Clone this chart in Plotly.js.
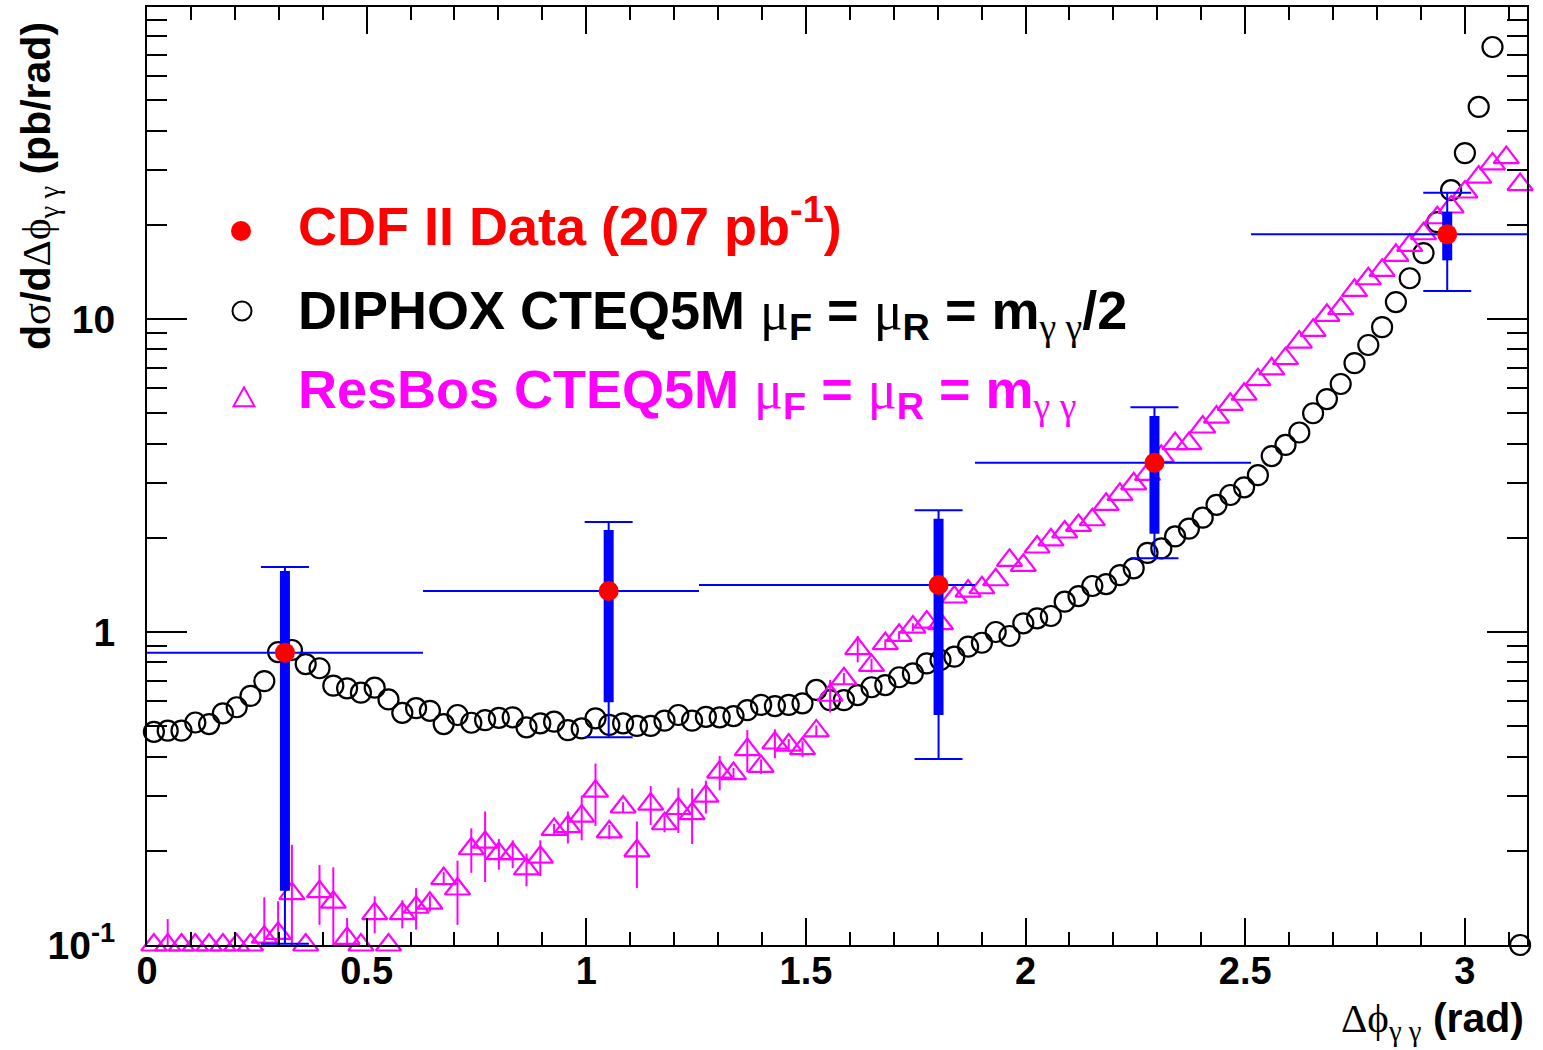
<!DOCTYPE html>
<html>
<head>
<meta charset="utf-8">
<script src="https://cdn.plot.ly/plotly-3.0.1.min.js"></script>
<style>
  html, body { margin: 0; padding: 0; background: #ffffff; }
  #plot { width: 1543px; height: 1050px; }
</style>
</head>
<body>
<div id="plot"></div>
<script>
// Diphoton azimuthal separation: CDF Run II data vs DIPHOX and ResBos predictions

// 100 equal bins in delta-phi between 0 and pi for the theory curves
var nBins = 100;
var phiMax = Math.PI;

// DIPHOX CTEQ5M, mu_F = mu_R = m_gg/2 (pb/rad), one value per bin
var diphoxY = [
  0.480, 0.484, 0.484, 0.514, 0.508, 0.550, 0.575, 0.625, 0.697, 0.863,
  0.876, 0.790, 0.766, 0.674, 0.661, 0.640, 0.664, 0.609, 0.552, 0.571,
  0.560, 0.508, 0.543, 0.513, 0.523, 0.532, 0.534, 0.496, 0.511, 0.517,
  0.486, 0.492, 0.530, 0.505, 0.511, 0.501, 0.501, 0.521, 0.543, 0.521,
  0.536, 0.534, 0.539, 0.563, 0.585, 0.580, 0.585, 0.592, 0.653, 0.606,
  0.606, 0.629, 0.666, 0.677, 0.717, 0.738, 0.794, 0.814, 0.834, 0.898,
  0.924, 1.000, 0.971, 1.066, 1.106, 1.125, 1.250, 1.303, 1.403, 1.423,
  1.520, 1.598, 1.790, 1.850, 2.020, 2.140, 2.320, 2.550, 2.740, 2.900,
  3.170, 3.650, 3.960, 4.340, 5.000, 5.550, 6.200, 7.230, 8.260, 9.420,
  11.33, 13.50, 16.25, 20.40, 25.80, 33.90, 47.60, 74.00, null, 0.100
];

// ResBos CTEQ5M, mu_F = mu_R = m_gg (pb/rad), one value per bin
var resbosY = [
  0.100, 0.100, 0.100, 0.100, 0.100, 0.100, 0.100, 0.100, 0.106, 0.109,
  0.146, 0.100, 0.148, 0.137, 0.105, 0.100, 0.126, 0.100, 0.126, 0.132,
  0.136, 0.163, 0.151, 0.203, 0.213, 0.196, 0.196, 0.175, 0.191, 0.234,
  0.239, 0.258, 0.310, 0.230, 0.276, 0.200, 0.282, 0.244, 0.273, 0.263,
  0.299, 0.357, 0.353, 0.421, 0.372, 0.442, 0.435, 0.424, 0.483, 0.628,
  0.709, 0.885, 0.782, 0.918, 0.976, 1.037, 1.076, 1.063, 1.294, 1.352,
  1.385, 1.469, 1.694, 1.633, 1.869, 1.970, 2.087, 2.190, 2.284, 2.558,
  2.754, 2.976, 3.190, 3.640, 4.000, 4.000, 4.520, 4.860, 5.340, 5.750,
  6.400, 6.930, 7.470, 8.440, 9.200, 10.28, 10.79, 12.35, 13.45, 14.30,
  15.98, 17.20, 18.73, 21.07, 22.80, 25.46, 28.40, 31.30, 32.80, 26.90
];

// ResBos statistical uncertainty per bin (pb/rad)
var resbosErr = [
  0.000, 0.021, 0.000, 0.000, 0.000, 0.000, 0.000, 0.000, 0.036, 0.029,
  0.063, 0.000, 0.032, 0.040, 0.017, 0.000, 0.017, 0.000, 0.013, 0.020,
  0.008, 0.008, 0.035, 0.033, 0.054, 0.022, 0.020, 0.021, 0.025, 0.010,
  0.028, 0.042, 0.070, 0.012, 0.010, 0.048, 0.040, 0.015, 0.045, 0.053,
  0.036, 0.045, 0.015, 0.065, 0.020, 0.047, 0.020, 0.025, 0.020, 0.075,
  0.030, 0.085, 0.040, 0.030, 0.030, 0.030, 0.000, 0.000, 0.000, 0.000,
  0.000, 0.000, 0.000, 0.000, 0.000, 0.000, 0.000, 0.000, 0.000, 0.000,
  0.000, 0.000, 0.000, 0.000, 0.000, 0.000, 0.000, 0.000, 0.000, 0.000,
  0.000, 0.000, 0.000, 0.000, 0.000, 0.000, 0.000, 0.000, 0.000, 0.000,
  0.000, 0.000, 0.000, 0.000, 0.000, 0.000, 0.000, 0.000, 0.000, 0.000
];

// CDF II data: five bins of width pi/5, points at the mean delta-phi in each bin
var dataBinLo = [0.0, 0.6283, 1.2566, 1.8850, 2.5133];
var dataBinHi = [0.6283, 1.2566, 1.8850, 2.5133, 3.1416];
var dataX     = [0.314, 1.051, 1.802, 2.2935, 2.960];
var dataY     = [0.859, 1.352, 1.413, 3.475, 18.65];
// statistical band (thick) and total uncertainty (thin, with caps)
var statHi = [1.566, 2.118, 2.300, 4.900, 22.0];
var statLo = [0.149, 0.597, 0.543, 2.060, 15.4];
var totHi  = [1.614, 2.246, 2.450, 5.230, 25.3];
var totLo  = [0.101, 0.461, 0.393, 1.720, 12.3];

// axis tick labels
var xTickVals = [0, 0.5, 1, 1.5, 2, 2.5, 3];
var xTickText = ['0', '0.5', '1', '1.5', '2', '2.5', '3'];
var yTickVals = [0.1, 1, 10];
var yTickText = ['10<sup>-1</sup>', '1', '10'];
var yMinorVals = [0.2, 0.3, 0.4, 0.5, 0.6, 0.7, 0.8, 0.9,
                  2, 3, 4, 5, 6, 7, 8, 9,
                  20, 30, 40, 50, 60, 70, 80, 90];

// bin centres for the theory histograms
var binX = [];
for (var i = 0; i < nBins; i++) binX.push((i + 0.5) * phiMax / nBins);

function diff(a, b) { return a.map(function (v, k) { return v - b[k]; }); }

var SANS = 'Liberation Sans, Arial, Helvetica, sans-serif';
var GREEK = 'font-weight:normal;font-family:Liberation Serif, Times New Roman, serif';
function g(s) { return '<span style="' + GREEK + '">' + s + '</span>'; }

var BLUE = '#0000ff', RED = '#ff0000', MAG = '#ff00ff';
var PHI = '\u03d5';

var traces = [
  {
    name: 'DIPHOX', type: 'scatter', mode: 'markers',
    x: binX, y: diphoxY, cliponaxis: false,
    marker: { symbol: 'circle-open', size: 20, color: '#000000', line: { width: 2.2, color: '#000000' } },
    hoverinfo: 'x+y'
  },
  {
    name: 'ResBos', type: 'scatter', mode: 'markers',
    x: binX, y: resbosY, cliponaxis: false,
    marker: { symbol: 'triangle-up-open', size: 22, color: MAG, line: { width: 2.2, color: MAG } },
    error_y: { type: 'data', array: resbosErr, symmetric: true, color: MAG, thickness: 2, width: 0 },
    hoverinfo: 'x+y'
  },
  {
    name: 'CDF stat', type: 'scatter', mode: 'markers',
    x: dataX, y: dataY,
    marker: { size: 1, opacity: 0 },
    error_y: { type: 'data', symmetric: false,
               array: diff(statHi, dataY), arrayminus: diff(dataY, statLo),
               color: BLUE, thickness: 10, width: 0 },
    hoverinfo: 'skip'
  },
  {
    name: 'CDF II Data', type: 'scatter', mode: 'markers',
    x: dataX, y: dataY,
    marker: { symbol: 'circle', size: 20, color: RED },
    error_y: { type: 'data', symmetric: false,
               array: diff(totHi, dataY), arrayminus: diff(dataY, totLo),
               color: BLUE, thickness: 2, width: 24 },
    error_x: { type: 'data', symmetric: false,
               array: diff(dataBinHi, dataX), arrayminus: diff(dataX, dataBinLo),
               color: BLUE, thickness: 2, width: 0 },
    hoverinfo: 'x+y'
  }
];

// plot frame in pixels: x 147..1527, y 7..945
function px(x) { return (x - 147) / 1380; }
function py(y) { return (945 - y) / 938; }

var legendFont = { family: SANS, size: 54, weight: 700 };

var annotations = [
  {
    xref: 'paper', yref: 'paper', x: px(296), y: py(222), xanchor: 'left', yanchor: 'middle',
    showarrow: false, font: Object.assign({}, legendFont, { color: RED }),
    text: 'CDF II Data (207 pb<sup>-1</sup>)'
  },
  {
    xref: 'paper', yref: 'paper', x: px(296), y: py(314), xanchor: 'left', yanchor: 'middle',
    showarrow: false, font: Object.assign({}, legendFont, { color: '#000000' }),
    text: 'DIPHOX CTEQ5M ' + g('\u03bc') + '<sub>F</sub> = ' + g('\u03bc') +
          '<sub>R</sub> = m<sub>' + g('\u03b3 \u03b3') + '</sub>/2'
  },
  {
    xref: 'paper', yref: 'paper', x: px(296), y: py(393), xanchor: 'left', yanchor: 'middle',
    showarrow: false, font: Object.assign({}, legendFont, { color: MAG }),
    text: 'ResBos CTEQ5M ' + g('\u03bc') + '<sub>F</sub> = ' + g('\u03bc') +
          '<sub>R</sub> = m<sub>' + g('\u03b3 \u03b3') + '</sub>'
  },
  {
    // y-axis title, right-aligned to the top of the frame
    xref: 'paper', yref: 'paper', x: px(39), y: py(20), xanchor: 'center', yanchor: 'top',
    textangle: -90, showarrow: false,
    font: { family: SANS, size: 41, weight: 700, color: '#000000' },
    text: 'd' + g('\u03c3') + '/d' + g('\u0394' + PHI) + '<sub>' + g('\u03b3 \u03b3') + '</sub> (pb/rad)'
  },
  {
    // x-axis title, right-aligned under the frame
    xref: 'paper', yref: 'paper', x: px(1526), y: py(1021), xanchor: 'right', yanchor: 'middle',
    showarrow: false,
    font: { family: SANS, size: 41, weight: 700, color: '#000000' },
    text: g('\u0394' + PHI) + '<sub>' + g('\u03b3 \u03b3') + '</sub> (rad)'
  }
];

// legend symbols
function circleShape(cx, cy, r, fill, line) {
  return {
    type: 'circle', xref: 'paper', yref: 'paper', layer: 'above',
    x0: px(cx - r), x1: px(cx + r), y0: py(cy + r), y1: py(cy - r),
    fillcolor: fill, line: line
  };
}
function triPath(cx, cy, w, h) {
  var x0 = px(cx - w / 2), x1 = px(cx + w / 2), xm = px(cx);
  var yb = py(cy + h / 3), yt = py(cy - 2 * h / 3);
  return 'M' + x0 + ',' + yb + ' L' + x1 + ',' + yb + ' L' + xm + ',' + yt + ' Z';
}
var shapes = [
  circleShape(241, 231, 10, RED, { width: 0 }),
  circleShape(242, 311, 9.5, 'rgba(0,0,0,0)', { width: 2, color: '#000000' }),
  { type: 'path', xref: 'paper', yref: 'paper', layer: 'above',
    path: triPath(244, 400, 21, 19), fillcolor: 'rgba(0,0,0,0)', line: { width: 2, color: MAG } }
];

var layout = {
  width: 1543, height: 1050,
  margin: { l: 147, r: 16, t: 7, b: 105, pad: 0 },
  paper_bgcolor: '#ffffff', plot_bgcolor: '#ffffff',
  showlegend: false,
  xaxis: {
    range: [0, phiMax], tickmode: 'array', tickvals: xTickVals, ticktext: xTickText,
    ticks: 'inside', ticklen: 27, tickwidth: 2, tickcolor: '#000000',
    minor: { dtick: 0.1, tick0: 0, ticks: 'inside', ticklen: 13, tickwidth: 2, tickcolor: '#000000', showgrid: false },
    showline: true, linewidth: 2, linecolor: '#000000', mirror: 'ticks',
    showgrid: false, zeroline: false,
    ticklabelstandoff: -9,
    tickfont: { family: SANS, size: 38, weight: 700, color: '#000000' }
  },
  yaxis: {
    type: 'log', range: [-1, 1.997], tickmode: 'array', tickvals: yTickVals, ticktext: yTickText,
    ticks: 'inside', ticklen: 40, tickwidth: 2, tickcolor: '#000000',
    minor: { tickmode: 'array', tickvals: yMinorVals, ticks: 'inside', ticklen: 20, tickwidth: 2, tickcolor: '#000000', showgrid: false },
    showline: true, linewidth: 2, linecolor: '#000000', mirror: 'ticks',
    showgrid: false, zeroline: false,
    ticklabelstandoff: 22,
    tickfont: { family: SANS, size: 39, weight: 700, color: '#000000' }
  },
  annotations: annotations,
  shapes: shapes
};

Plotly.newPlot('plot', traces, layout, { displayModeBar: false, staticPlot: true });
</script>
</body>
</html>
